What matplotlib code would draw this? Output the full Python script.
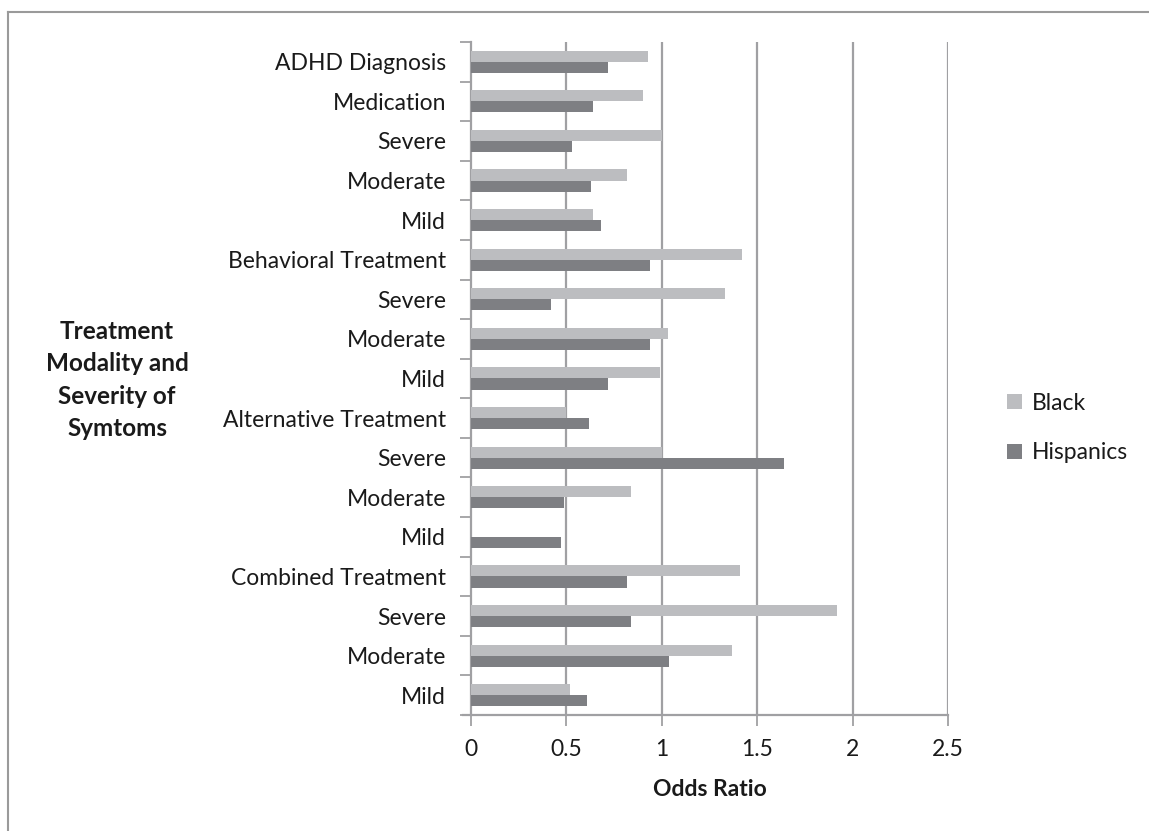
import matplotlib
matplotlib.use("Agg")
import matplotlib.pyplot as plt
from matplotlib.lines import Line2D
from matplotlib.patches import Patch
import numpy as np

plt.rcParams['font.family'] = ['Lato', 'DejaVu Sans']

# Categories listed top to bottom
categories = [
    "ADHD Diagnosis", "Medication", "Severe", "Moderate", "Mild",
    "Behavioral Treatment", "Severe", "Moderate", "Mild",
    "Alternative Treatment", "Severe", "Moderate", "Mild",
    "Combined Treatment", "Severe", "Moderate", "Mild",
]
black = [0.93, 0.90, 1.00, 0.82, 0.64,
         1.42, 1.33, 1.03, 0.99,
         0.50, 1.00, 0.84, 0.00,
         1.41, 1.92, 1.37, 0.52]
hispanics = [0.72, 0.64, 0.53, 0.63, 0.68,
             0.94, 0.42, 0.94, 0.72,
             0.62, 1.64, 0.49, 0.47,
             0.82, 0.84, 1.04, 0.61]
x_ticks = [0, 0.5, 1, 1.5, 2, 2.5]
x_ticklabels = ["0", "0.5", "1", "1.5", "2", "2.5"]

c_black = "#bcbdc0"
c_hisp = "#7e7f83"
c_axis = "#a0a0a3"
c_text = "#1a1a1a"
fs = 16.5

W, H = 1149, 831
fig = plt.figure(figsize=(W / 100, H / 100), dpi=100)
ax = fig.add_axes([471 / W, 1 - 715 / H, (948 - 471) / W, (715 - 42) / H])

n = len(categories)
pos = np.arange(n)  # 0 at top after axis inversion
bh = 0.28
ax.barh(pos - bh / 2, black, height=bh, color=c_black, edgecolor="none", zorder=3)
ax.barh(pos + bh / 2, hispanics, height=bh, color=c_hisp, edgecolor="none", zorder=3)

ax.set_xlim(0, 2.5)
ax.set_ylim(n - 0.5, -0.5)

# vertical gridlines
for t in x_ticks[1:]:
    ax.axvline(t, color=c_axis, lw=1.6, zorder=1)

for s in ["top", "right"]:
    ax.spines[s].set_visible(False)
ax.spines["left"].set_color(c_axis)
ax.spines["left"].set_linewidth(1.6)
ax.spines["bottom"].set_color(c_axis)
ax.spines["bottom"].set_linewidth(1.6)
ax.spines["bottom"].set_bounds(-0.04, 2.5)

ax.set_xticks(x_ticks)
ax.set_xticklabels(x_ticklabels, fontsize=fs, color=c_text)
ax.tick_params(axis="x", direction="out", length=8, width=1.3, color=c_axis, pad=9)

# category labels at centers, tick marks at boundaries
ax.set_yticks(pos)
ax.set_yticklabels(categories, fontsize=fs, color=c_text)
ax.tick_params(axis="y", which="major", length=0, pad=18)
ax.set_yticks(np.arange(-0.5, n, 1), minor=True)
ax.tick_params(axis="y", which="minor", direction="out", length=8, width=1.3, color=c_axis)

ax.set_xlabel("Odds Ratio", fontsize=fs, fontweight="bold", color=c_text, labelpad=14)

fig.text(117 / W, 1 - 380 / H, "Treatment\nModality and\nSeverity of\nSymtoms",
         ha="center", va="center", fontsize=17.5, fontweight="bold", color=c_text,
         linespacing=1.5)

handles = [Patch(facecolor=c_black, edgecolor="none", label="Black"),
           Patch(facecolor=c_hisp, edgecolor="none", label="Hispanics")]
leg = fig.legend(handles=handles, loc="center left", bbox_to_anchor=(1007 / W, 1 - 428 / H),
                 frameon=False, fontsize=fs, handlelength=0.65, handleheight=0.65,
                 handletextpad=0.45, labelspacing=1.25, borderpad=0, borderaxespad=0)
for t in leg.get_texts():
    t.set_color(c_text)

# chart frame (top and left edges)
fig.add_artist(Line2D([8 / W, 8 / W], [0, 1 - 12 / H], transform=fig.transFigure,
                      color="#9a9a9a", lw=1.5))
fig.add_artist(Line2D([8 / W, 1], [1 - 12 / H, 1 - 12 / H], transform=fig.transFigure,
                      color="#9a9a9a", lw=1.5))

fig.savefig("out.png", dpi=100, facecolor="white")
